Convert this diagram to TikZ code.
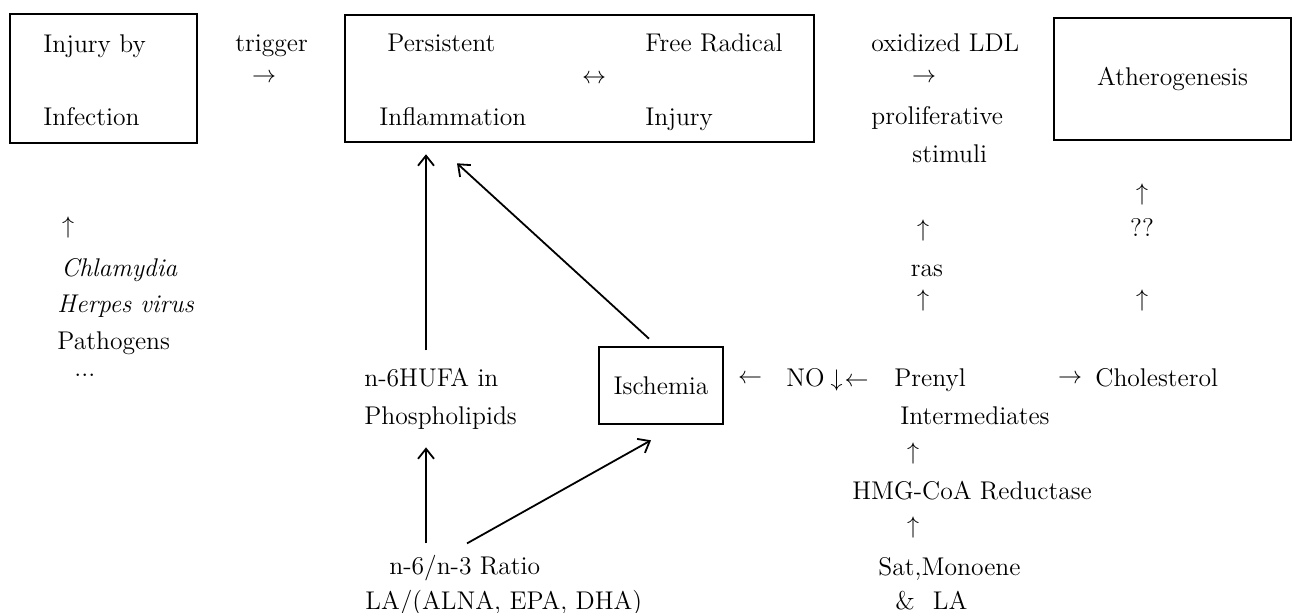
\documentclass[tikz,border=0pt]{standalone}
\usepackage{tikz}
\usetikzlibrary{calc,arrows.meta}

\begin{document}
\begin{tikzpicture}[x=0.5pt, y=-0.5pt,
    font=\fontsize{12.8}{15}\selectfont,
    txt/.style={anchor=base west, inner sep=0},
    ctxt/.style={anchor=base, inner sep=0},
    glyph/.style={inner sep=0},
    box/.style={draw, line width=1.3pt, inner sep=0},
    conn/.style={line width=0.9pt, -{Straight Barb[length=5pt, width=8pt]}}]
  \useasboundingbox (0,0) rectangle (1293,613);
  % Boxes
  \node[box, minimum width=93.5pt, minimum height=64.5pt] (injbox) at (103.5,78.5) {};
  \node[box, minimum width=234.5pt, minimum height=63.5pt] (persbox) at (579.5,78.5) {};
  \node[box, minimum width=118.5pt, minimum height=61pt] (athbox) at (1172.5,79) {Atherogenesis};
  \node[box, minimum width=62pt, minimum height=38.5pt] (ischbox) at (661,385.5) {Ischemia};
  % Top row
  \node[txt] (injury) at (43,53) {Injury by};
  \node[txt] (infection) at (43,126) {Infection};
  \node[txt] (trigger) at (235,52) {trigger};
  \node[glyph] (trigarr) at (264,78) {$\rightarrow$};
  \node[txt] (persist) at (387,52) {Persistent};
  \node[txt] (inflam) at (379,126) {Inflammation};
  \node[glyph] (bothway) at (594,79) {$\leftrightarrow$};
  \node[txt] (freerad) at (645,52) {Free Radical};
  \node[txt] (radinj) at (645,126) {Injury};
  \node[txt] (oxldl) at (871,52) {oxidized LDL};
  \node[glyph] (oxarr) at (924,78) {$\rightarrow$};
  \node[txt] (prolif) at (871,125) {proliferative};
  \node[txt] (stimuli) at (912,163) {stimuli};
  % Pathogens
  \node[glyph] (uppath) at (68,228) {$\uparrow$};
  \node[txt] (chlam) at (61,277) {\textit{Chlamydia}};
  \node[txt] (herpes) at (57,313) {\textit{Herpes virus}};
  \node[txt] (pathog) at (57,350) {Pathogens};
  \node[txt] (dots) at (74,377) {...};
  % ras and cholesterol columns
  \node[glyph] (upstim) at (923,231) {$\uparrow$};
  \node[ctxt] (ras) at (927,277) {ras};
  \node[glyph] (upras) at (923,301) {$\uparrow$};
  \node[glyph] (upath) at (1142,195) {$\uparrow$};
  \node[ctxt] (qq) at (1142,237) {??};
  \node[glyph] (upchol) at (1142,301) {$\uparrow$};
  % Middle row
  \node[txt] (hufa1) at (364,387) {n-6HUFA in};
  \node[txt] (hufa2) at (364,425) {Phospholipids};
  \node[glyph] (leftisch) at (750,379) {$\leftarrow$};
  \node[txt] (nodown) at (786,387) {NO\kern3pt$\downarrow$\kern1pt$\leftarrow$};
  \node[txt] (prenyl) at (894,387) {Prenyl};
  \node[txt] (interm) at (900,425) {Intermediates};
  \node[glyph] (rightchol) at (1070,379) {$\rightarrow$};
  \node[txt] (chol) at (1095,387) {Cholesterol};
  % Bottom rows
  \node[glyph] (upinter) at (913,454) {$\uparrow$};
  \node[txt] (hmg) at (852,500) {HMG-CoA Reductase};
  \node[glyph] (uphmg) at (913,527) {$\uparrow$};
  \node[txt] (satmono) at (878,575) {Sat,Monoene};
  \node[txt] (andla) at (895,609) {\&\hspace{9pt}LA};
  \node[txt] (ratio1) at (389,574) {n-6/n-3 Ratio};
  \node[txt] (ratio2) at (365,609) {LA/(ALNA, EPA, DHA)};
  % Connectors
  \draw[conn] ($(hufa1.north west)+(62,-18)$) -- ($(persbox.south)+(-153.5,11)$);
  \draw[conn] ($(ischbox.north)+(-12,-7)$) -- ($(persbox.south)+(-122.5,20)$);
  \draw[conn] ($(ratio1.north west)+(37,-11)$) -- ($(hufa2.south west)+(62,17)$);
  \draw[conn] ($(ratio1.north west)+(78,-11)$) -- ($(ischbox.south)+(-10,15)$);
\end{tikzpicture}
\end{document}
